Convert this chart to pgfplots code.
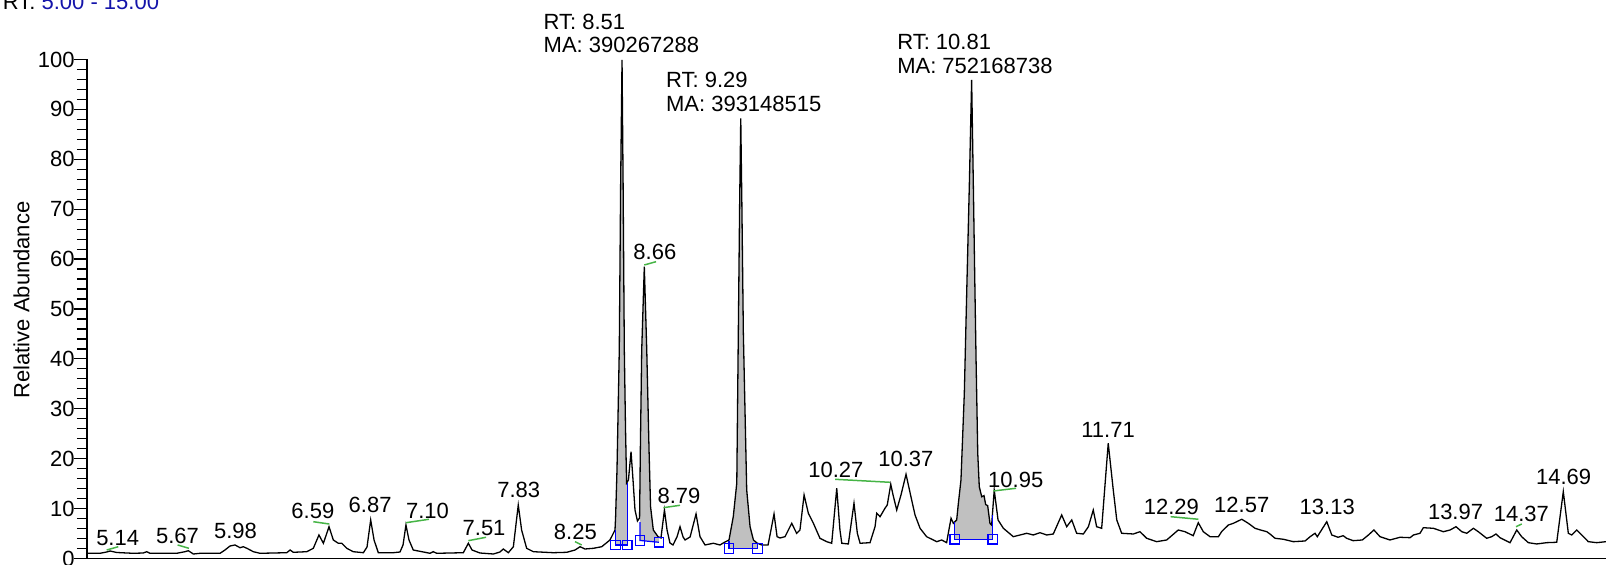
\documentclass[border=0pt]{standalone}
\usepackage{pgfplots}
\pgfplotsset{compat=1.18}
\usepackage{pgfplotstable}
\usepackage{fontspec}
\setmainfont{Liberation Sans}
\definecolor{rtblue}{RGB}{20,20,170}
\definecolor{lgreen}{RGB}{70,180,70}
\definecolor{mblue}{RGB}{0,0,255}
\definecolor{pkgray}{RGB}{192,192,192}
\newcommand\lf{\fontsize{11}{13.2}\selectfont}

\pgfplotstableread{
x y
5.002 1.04
5.085 1.04
5.129 1.30
5.151 1.50
5.195 1.20
5.303 1.04
5.369 1.10
5.391 1.36
5.413 1.04
5.588 1.04
5.642 1.36
5.664 1.56
5.697 0.90
5.741 1.04
5.872 1.04
5.904 1.70
5.937 2.50
5.970 2.71
6.003 2.16
6.024 2.36
6.048 2.04
6.090 1.36
6.134 1.04
6.309 1.16
6.331 1.70
6.352 1.24
6.440 1.36
6.483 2.04
6.520 4.71
6.549 3.05
6.586 6.37
6.614 3.71
6.647 3.05
6.669 3.05
6.702 2.04
6.745 1.36
6.811 1.16
6.835 2.30
6.859 7.72
6.881 3.71
6.909 1.16
7.007 1.16
7.051 1.30
7.071 2.71
7.090 6.71
7.110 3.71
7.138 1.70
7.248 1.04
7.269 1.36
7.292 1.04
7.466 1.16
7.499 3.05
7.523 1.70
7.575 1.10
7.663 0.90
7.706 1.30
7.728 1.90
7.761 1.16
7.794 2.36
7.826 10.72
7.848 5.71
7.881 2.04
7.925 1.36
8.056 1.16
8.144 1.24
8.198 1.70
8.231 2.36
8.263 1.90
8.318 2.04
8.373 2.36
8.427 3.71
8.460 5.71
8.464 8.38
8.473 17.74
8.488 41.78
8.497 75.25
8.506 99.90
8.513 75.25
8.521 41.78
8.529 25.75
8.536 15.13
8.548 15.73
8.565 21.40
8.578 15.73
8.591 9.72
8.607 7.52
8.621 8.12
8.626 21.74
8.635 41.78
8.652 58.48
8.668 41.78
8.683 21.74
8.693 10.38
8.711 5.71
8.742 4.37
8.761 4.11
8.784 9.72
8.801 5.71
8.820 3.11
8.840 2.71
8.866 4.31
8.886 6.37
8.906 4.31
8.919 3.71
8.952 4.31
8.991 8.92
9.017 4.37
9.050 2.71
9.104 3.05
9.148 2.71
9.181 3.31
9.207 3.71
9.235 8.38
9.258 15.13
9.268 45.19
9.277 71.8
9.284 88.22
9.291 71.8
9.301 45.19
9.323 13.73
9.345 6.37
9.367 3.71
9.390 3.11
9.421 2.71
9.463 2.71
9.482 5.71
9.502 8.92
9.522 4.37
9.541 4.11
9.574 4.37
9.618 7.05
9.650 5.05
9.672 5.71
9.699 12.73
9.727 9.06
9.760 7.05
9.803 4.05
9.847 3.37
9.880 3.05
9.913 14.07
9.934 5.71
9.946 3.05
9.989 2.91
10.026 11.06
10.048 5.05
10.066 3.05
10.131 3.17
10.164 6.37
10.175 9.06
10.197 8.38
10.229 10.06
10.244 10.72
10.267 14.87
10.282 12.73
10.306 9.72
10.334 12.73
10.367 16.87
10.404 11.72
10.426 8.72
10.459 6.05
10.502 4.37
10.568 3.37
10.601 3.71
10.633 3.17
10.644 5.05
10.662 8.06
10.677 7.05
10.699 7.72
10.710 11.06
10.727 15.73
10.749 33.11
10.766 55
10.782 75
10.797 95.89
10.808 75
10.818 55
10.826 39.78
10.837 21.08
10.847 14.39
10.863 12.38
10.878 12.6
10.889 10.8
10.902 10.6
10.917 7.05
10.928 6.71
10.945 13.7
10.970 7.72
11.005 6.05
11.070 4.37
11.158 5.05
11.201 4.71
11.245 5.17
11.289 4.71
11.332 4.91
11.387 8.72
11.420 6.37
11.453 7.72
11.485 5.05
11.529 4.91
11.562 6.37
11.594 9.72
11.616 6.37
11.649 6.05
11.692 23.09
11.725 13.73
11.748 7.72
11.780 5.05
11.857 4.91
11.900 5.37
11.944 4.05
12.009 3.37
12.075 3.71
12.151 5.71
12.195 5.37
12.249 4.57
12.282 7.17
12.315 5.37
12.359 4.37
12.414 4.37
12.435 5.37
12.479 6.71
12.512 7.05
12.567 7.86
12.610 7.05
12.654 6.05
12.690 5.71
12.731 5.37
12.752 4.91
12.785 4.05
12.840 3.85
12.905 3.37
12.982 3.51
13.015 4.37
13.047 5.05
13.062 4.37
13.124 7.37
13.157 4.71
13.198 4.25
13.232 4.57
13.254 4.05
13.297 3.57
13.357 3.71
13.397 4.71
13.433 5.71
13.473 4.37
13.538 3.71
13.604 4.25
13.670 4.17
13.692 4.71
13.735 5.05
13.757 6.17
13.823 6.05
13.888 5.37
13.932 5.71
13.971 6.37
14.009 5.37
14.041 5.05
14.085 6.05
14.117 5.37
14.172 4.05
14.205 4.37
14.233 4.91
14.259 4.17
14.325 3.17
14.369 5.71
14.401 4.37
14.445 3.17
14.500 2.91
14.565 3.17
14.631 3.25
14.674 13.39
14.707 5.05
14.729 4.71
14.762 5.71
14.795 4.71
14.838 3.37
14.893 3.17
14.954 3.37
}\trace

\begin{document}
\begin{tikzpicture}
\begin{axis}[
  scale only axis, width=759.5pt, height=249.5pt,
  xmin=5, xmax=14.954, ymin=0, ymax=100,
  axis x line=bottom, axis y line=left,
  axis line style={-, line width=0.6pt},
  xtick=\empty,
  ytick={0,10,...,100}, minor y tick num=4,
  tick align=outside, major tick length=6.65pt, minor tick length=5pt,
  tick style={black, line width=0.6pt},
  ticklabel style={font=\lf},
  yticklabel style={anchor=east, inner sep=0pt, xshift=0.6pt},
  /pgf/number format/assume math mode=true,
  ylabel={Relative Abundance},
  ylabel style={font=\lf, at={(axis description cs:-0.0431,0.518)}, anchor=center},
  clip=false,
]
% shaded integrated peaks
\addplot[fill=pkgray, draw=none] coordinates {(8.462,2.71) (8.462,7.0) (8.464,8.38) (8.473,17.74) (8.488,41.78) (8.497,75.25) (8.506,99.90) (8.513,75.25) (8.521,41.78) (8.529,25.75) (8.536,15.13) (8.540,15.3) (8.540,2.71)} --cycle;
\addplot[fill=pkgray, draw=none] coordinates {(8.624,3.61) (8.624,8.5) (8.626,21.74) (8.635,41.78) (8.652,58.48) (8.668,41.78) (8.683,21.74) (8.693,10.38) (8.711,5.71) (8.742,4.37) (8.748,4.3) (8.748,3.25)} --cycle;
\addplot[fill=pkgray, draw=none] coordinates {(9.207,2.04) (9.207,3.71) (9.235,8.38) (9.258,15.13) (9.268,45.19) (9.277,71.8) (9.284,88.22) (9.291,71.8) (9.301,45.19) (9.323,13.73) (9.345,6.37) (9.367,3.71) (9.390,3.11) (9.393,3.1) (9.393,2.04)} --cycle;
\addplot[fill=pkgray, draw=none] coordinates {(10.687,3.87) (10.687,7.3) (10.699,7.72) (10.710,11.06) (10.727,15.73) (10.749,33.11) (10.766,55) (10.782,75) (10.797,95.89) (10.808,75) (10.818,55) (10.826,39.78) (10.837,21.08) (10.847,14.39) (10.863,12.38) (10.878,12.6) (10.889,10.8) (10.902,10.6) (10.917,7.05) (10.928,6.71) (10.935,9.6) (10.935,3.87)} --cycle;
% trace
\addplot[black, line width=0.65pt] table[x=x, y=y] {\trace};
% integration baselines
\addplot[mblue, line width=0.6pt] coordinates {(8.462,5.7) (8.462,2.71) (8.540,2.71) (8.540,15.2)};
\addplot[mblue, line width=0.6pt] coordinates {(8.624,7.3) (8.624,3.61) (8.748,3.25)};
\addplot[mblue, line width=0.6pt] coordinates {(9.207,3.5) (9.207,2.04) (9.393,2.04) (9.393,3.0)};
\addplot[mblue, line width=0.6pt] coordinates {(10.687,7.3) (10.687,3.87) (10.935,3.87) (10.935,8.7)};
\addplot[mblue, line width=0.6pt, only marks, mark=square, mark size=2.4pt] coordinates {(8.462,2.71) (8.540,2.71) (8.624,3.61) (8.748,3.25) (9.207,2.04) (9.393,2.04) (10.687,3.87) (10.935,3.87)};
% green leader lines
\addplot[lgreen, line width=0.75pt] coordinates {(5.129,1.70) (5.205,2.36)};
\addplot[lgreen, line width=0.75pt] coordinates {(5.594,2.71) (5.668,2.04)};
\addplot[lgreen, line width=0.75pt] coordinates {(6.483,7.37) (6.588,6.91)};
\addplot[lgreen, line width=0.75pt] coordinates {(7.090,7.17) (7.241,7.86)};
\addplot[lgreen, line width=0.75pt] coordinates {(7.499,3.57) (7.615,4.25)};
\addplot[lgreen, line width=0.75pt] coordinates {(8.198,3.37) (8.242,2.71)};
\addplot[lgreen, line width=0.75pt] coordinates {(8.652,58.82) (8.729,59.48)};
\addplot[lgreen, line width=0.75pt] coordinates {(8.777,10.18) (8.886,10.66)};
\addplot[lgreen, line width=0.75pt] coordinates {(9.902,15.87) (10.262,15.27)};
\addplot[lgreen, line width=0.75pt] coordinates {(10.939,13.53) (11.088,14.07)};
\addplot[lgreen, line width=0.75pt] coordinates {(12.101,8.38) (12.283,7.86)};
\addplot[lgreen, line width=0.75pt] coordinates {(14.364,6.37) (14.402,6.91)};
% peak labels
\begin{scope}[every node/.style={font=\lf, inner sep=0pt, anchor=base}]
\node at (axis cs:5.201,2.57) {5.14};
\node at (axis cs:5.593,2.91) {5.67};
\node at (axis cs:5.973,4.05) {5.98};
\node at (axis cs:6.480,8.06) {6.59};
\node at (axis cs:6.855,9.18) {6.87};
\node at (axis cs:7.231,8.06) {7.10};
\node at (axis cs:7.602,4.51) {7.51};
\node at (axis cs:7.829,12.26) {7.83};
\node at (axis cs:8.200,3.85) {8.25};
\node at (axis cs:8.721,59.82) {8.66};
\node at (axis cs:8.879,11.06) {8.79};
\node at (axis cs:9.907,16.27) {10.27};
\node at (axis cs:10.366,18.40) {10.37};
\node at (axis cs:11.086,14.19) {10.95};
\node at (axis cs:11.691,24.29) {11.71};
\node at (axis cs:12.106,8.72) {12.29};
\node at (axis cs:12.567,9.26) {12.57};
\node at (axis cs:13.127,8.86) {13.13};
\node at (axis cs:13.968,7.86) {13.97};
\node at (axis cs:14.399,7.37) {14.37};
\node at (axis cs:14.676,14.87) {14.69};
\node[anchor=base west] at (axis cs:7.990,106.05) {RT: 8.51};
\node[anchor=base west] at (axis cs:7.990,101.36) {MA: 390267288};
\node[anchor=base west] at (axis cs:8.792,94.43) {RT: 9.29};
\node[anchor=base west] at (axis cs:8.792,89.54) {MA: 393148515};
\node[anchor=base west] at (axis cs:10.307,102.1) {RT: 10.81};
\node[anchor=base west] at (axis cs:10.307,97.2) {MA: 752168738};
\node[anchor=base west] at (axis cs:4.4463,110.0) {RT: \textcolor{rtblue}{5.00 - 15.00}};
\end{scope}
\end{axis}
\pgfresetboundingbox
\path (-43.5pt,-3.25pt) rectangle (759.5pt,279.25pt);
\end{tikzpicture}
\end{document}
